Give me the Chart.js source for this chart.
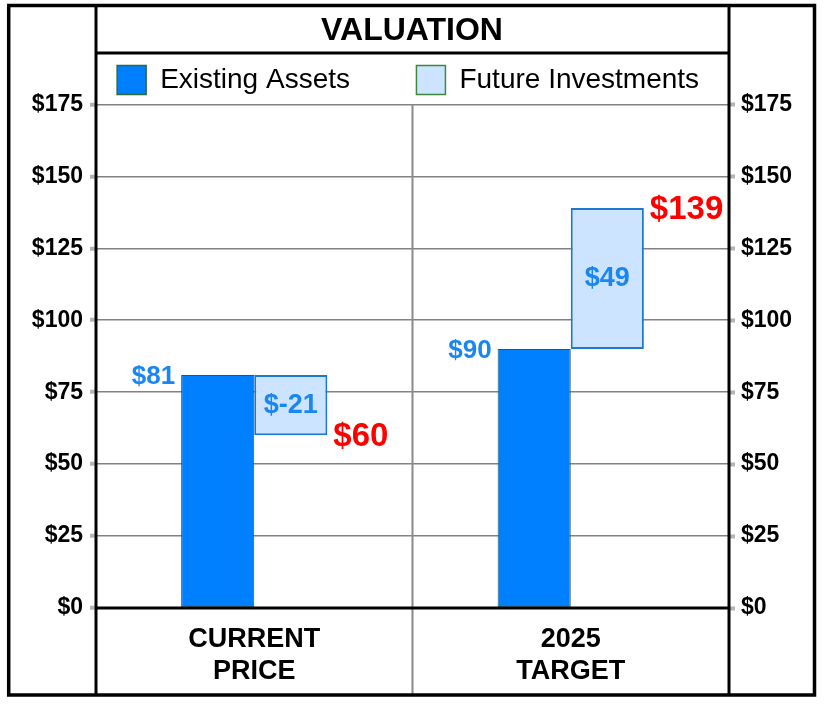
<!DOCTYPE html>
<html>
<head>
<meta charset="utf-8">
<title>Valuation</title>
<script src="https://cdn.jsdelivr.net/npm/chart.js@4.4.1/dist/chart.umd.min.js"></script>
<style>
  html, body { margin: 0; padding: 0; background: #fff; }
  #wrap { width: 824px; height: 704px; }
</style>
</head>
<body>
<div id="wrap"><canvas id="valuationChart" width="824" height="704"></canvas></div>
<script>
// ===============================
// data
// ===============================
const categories = [["CURRENT", "PRICE"], ["2025", "TARGET"]];
const existingAssets = [81, 90];
const futureInvestments = [-21, 49];
const yTicks = [0, 25, 50, 75, 100, 125, 150, 175];

const FONT = "'Liberation Sans', Arial, Helvetica, sans-serif";
const BLUE_TEXT = "#1a86f2";
Chart.defaults.font.family = FONT;
Chart.defaults.color = "#000";

// floating bars: from existing value to existing + future
const futureBars = existingAssets.map((v, i) => [v, v + futureInvestments[i]]);

// ===============================
// frame lines + value labels
// ===============================
const framePlugin = {
  id: "frame",
  afterDraw(chart) {
    const { ctx, chartArea: a, scales } = chart;
    ctx.save();

    // separator between categories
    const midX = (scales.x.getPixelForTick(0) + scales.x.getPixelForTick(1)) / 2;
    ctx.strokeStyle = "#8a8a8a";
    ctx.lineWidth = 2;
    ctx.beginPath();
    ctx.moveTo(midX, a.top);
    ctx.lineTo(midX, 695);
    ctx.stroke();

    // zero line
    const y0 = scales.y.getPixelForValue(0);
    ctx.strokeStyle = "#000";
    ctx.lineWidth = 3;
    ctx.beginPath();
    ctx.moveTo(a.left, y0);
    ctx.lineTo(a.right, y0);
    ctx.stroke();

    // title underline and inner verticals
    ctx.beginPath();
    ctx.moveTo(a.left, 53);
    ctx.lineTo(a.right, 53);
    ctx.moveTo(a.left, 5);
    ctx.lineTo(a.left, 695);
    ctx.moveTo(a.right, 5);
    ctx.lineTo(a.right, 695);
    ctx.stroke();

    // outer border
    ctx.lineWidth = 3.5;
    ctx.strokeRect(8.7, 5.5, 805.8, 689.5);

    // labels on existing bars
    const meta0 = chart.getDatasetMeta(0);
    ctx.font = `bold 26px ${FONT}`;
    ctx.fillStyle = BLUE_TEXT;
    ctx.textAlign = "right";
    ctx.textBaseline = "middle";
    meta0.data.forEach((bar, i) => {
      ctx.fillText("$" + existingAssets[i], bar.x - bar.width / 2 - 6, bar.y + 2);
    });

    // labels on future bars + totals
    const meta1 = chart.getDatasetMeta(1);
    meta1.data.forEach((bar, i) => {
      ctx.font = `bold 27px ${FONT}`;
      ctx.fillStyle = BLUE_TEXT;
      ctx.textAlign = "center";
      ctx.fillText("$" + futureInvestments[i], bar.x, (bar.y + bar.base) / 2);

      const total = futureBars[i][1];
      ctx.font = `bold 33px ${FONT}`;
      ctx.fillStyle = "#ff0000";
      ctx.textAlign = "left";
      ctx.fillText("$" + total, bar.x + bar.width / 2 + 6, scales.y.getPixelForValue(total) + 2);
    });

    ctx.restore();
  },
};

new Chart(document.getElementById("valuationChart"), {
  type: "bar",
  data: {
    labels: categories,
    datasets: [
      {
        label: "Existing Assets",
        data: existingAssets,
        backgroundColor: "#0080ff",
        borderColor: "#2d5a4a",
        borderWidth: 1,
      },
      {
        label: "Future Investments",
        data: futureBars,
        backgroundColor: "#cce4ff",
        borderColor: "#1e78d0",
        borderWidth: 2,
      },
    ],
  },
  options: {
    responsive: false,
    animation: false,
    devicePixelRatio: 1,
    layout: { padding: 0 },
    datasets: {
      bar: { categoryPercentage: 0.462, barPercentage: 1.0, borderSkipped: false },
    },
    plugins: {
      tooltip: { enabled: false },
      title: {
        display: true,
        text: "VALUATION",
        font: { size: 32, weight: "bold" },
        color: "#000",
        padding: { top: 12, bottom: 3 },
      },
      legend: {
        display: true,
        labels: {
          font: { size: 28 },
          color: "#000",
          boxWidth: 29,
          boxHeight: 29,
          padding: 12,
          generateLabels(chart) {
            const pads = [7, 1];
            return chart.data.datasets.map((ds, i) => ({
              text: ds.label + " ".repeat(pads[i]),
              fillStyle: ds.backgroundColor,
              strokeStyle: i === 0 ? "#2d6a3a" : "#3a8a3a",
              lineWidth: 1.5,
              datasetIndex: i,
            }));
          },
        },
      },
    },
    scales: {
      x: {
        grid: { display: false },
        border: { display: false },
        ticks: { font: { size: 27, weight: "bold" }, color: "#000", padding: 7 },
        afterFit(scale) { scale.height = 96; },
      },
      y: {
        position: "left",
        min: 0,
        max: 175,
        afterBuildTicks(scale) { scale.ticks = yTicks.map((v) => ({ value: v })); },
        ticks: {
          font: { size: 23, weight: "bold" },
          color: "#000",
          padding: 7,
          callback: (v) => "$" + v,
        },
        grid: {
          color: "#828282",
          lineWidth: 1.5,
          tickLength: 6,
          tickColor: "#b4b4b4",
          tickWidth: 4,
        },
        border: { display: false },
        afterFit(scale) { scale.width = 96; },
      },
      y2: {
        position: "right",
        min: 0,
        max: 175,
        afterBuildTicks(scale) { scale.ticks = yTicks.map((v) => ({ value: v })); },
        ticks: {
          font: { size: 23, weight: "bold" },
          color: "#000",
          padding: 6,
          callback: (v) => "$" + v,
        },
        grid: {
          drawOnChartArea: false,
          tickLength: 6,
          tickColor: "#b4b4b4",
          tickWidth: 4,
        },
        border: { display: false },
        afterFit(scale) { scale.width = 95; },
      },
    },
  },
  plugins: [framePlugin],
});
</script>
</body>
</html>
